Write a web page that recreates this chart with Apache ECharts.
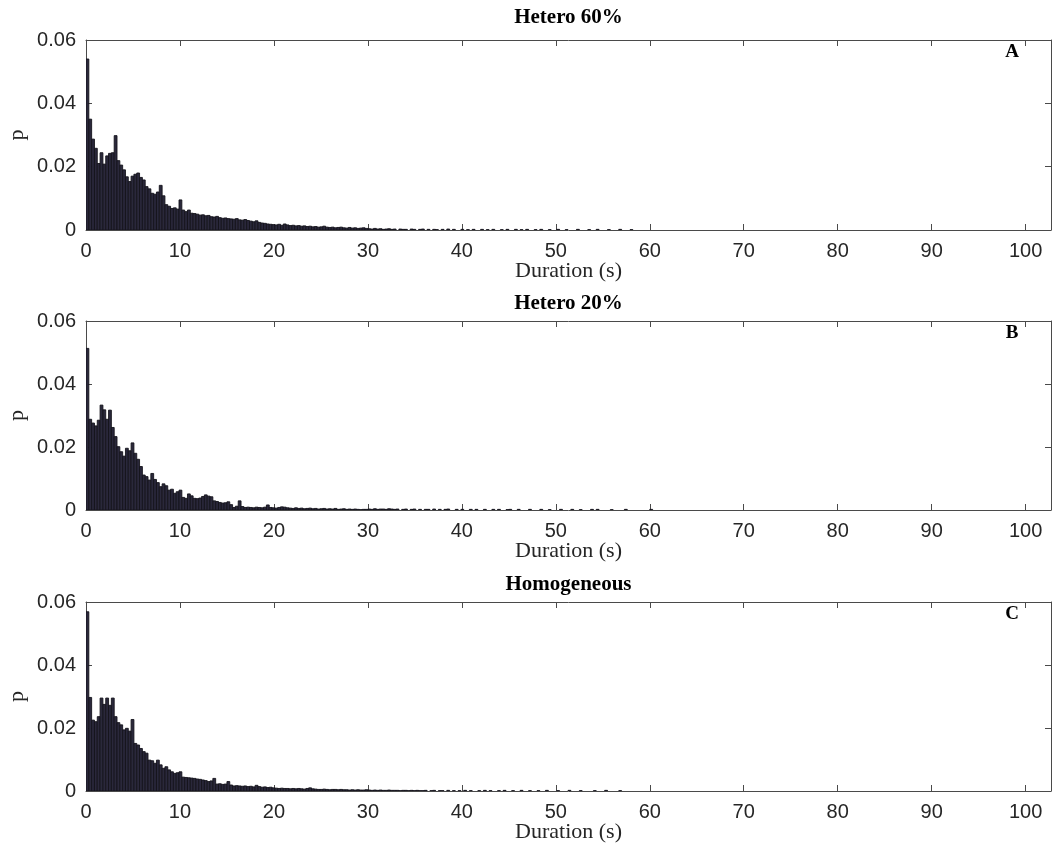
<!DOCTYPE html>
<html>
<head>
<meta charset="utf-8">
<script src="https://cdn.jsdelivr.net/npm/echarts@6/dist/echarts.min.js"></script>
<style>
  html, body { margin: 0; padding: 0; background: #ffffff; }
  #chart { width: 1052px; height: 858px; }
</style>
</head>
<body>
<div id="chart"></div>
<script>
// Histogram bin width (s) and x range
const BIN = 0.3;
const X_MAX = 102.7;

const panelTitles = ['Hetero 60%', 'Hetero 20%', 'Homogeneous'];
const panelTags = ['A', 'B', 'C'];
const xTickValues = [0, 10, 20, 30, 40, 50, 60, 70, 80, 90, 100];
const yTickValues = [0, 0.02, 0.04, 0.06];

// Probability per duration bin, bin i covers [i*BIN, (i+1)*BIN)
const hetero60 = [
  0.0540,0.0350,0.0287,0.0258,0.0210,0.0244,0.0208,0.0234,0.0242,0.0244,
  0.0298,0.0219,0.0205,0.0190,0.0168,0.0153,0.0170,0.0176,0.0180,0.0166,
  0.0158,0.0137,0.0130,0.0116,0.0113,0.0120,0.0141,0.0108,0.0080,0.0075,
  0.0068,0.0070,0.0066,0.0095,0.0063,0.0058,0.0063,0.0053,0.0052,0.0050,
  0.0047,0.0048,0.0045,0.0046,0.0042,0.0041,0.0043,0.0039,0.0037,0.0038,
  0.0036,0.0035,0.0034,0.0036,0.0032,0.0031,0.0033,0.0030,0.0028,0.0026,
  0.0029,0.0024,0.0022,0.0021,0.0019,0.0018,0.0017,0.0016,0.0018,0.0015,
  0.0019,0.0016,0.0014,0.0015,0.0013,0.0014,0.0012,0.0013,0.0011,0.0012,
  0.0010,0.0011,0.0009,0.0010,0.0012,0.0009,0.0008,0.0009,0.0007,0.0008,
  0.0009,0.0007,0.0006,0.0008,0.0006,0.0007,0.0005,0.0006,0.0007,0.0005,
  0.0004,0.0003,0.0005,0.0003,0.0004,0.0002,0.0003,0.0004,0.0002,0.0003,
  0,0.0003,0.0002,0.0002,0,0.0003,0.0002,0,0.0002,0.0003,
  0,0.0002,0,0.0002,0.0001,0,0.0002,0,0.0003,0,
  0.0002,0,0,0.0002,0,0.0001,0,0.0002,0,0,
  0.0002,0,0.0001,0,0.0002,0,0,0.0001,0,0.0002,
  0,0,0.0002,0,0.0001,0,0.0002,0,0,0.0001,
  0,0.0002,0,0,0.0001,0,0,0.0002,0,0,
  0.0001,0,0,0,0.0002,0,0,0,0.0001,0,
  0,0.0002,0,0,0,0.0001,0,0,0,0.0002,
  0,0,0,0.0001
];

const hetero20 = [
  0.0513,0.0288,0.0276,0.0267,0.0285,0.0333,0.0318,0.0288,0.0317,0.0262,
  0.0233,0.0201,0.0185,0.0171,0.0196,0.0188,0.0213,0.0180,0.0161,0.0138,
  0.0111,0.0106,0.0095,0.0116,0.0097,0.0087,0.0074,0.0083,0.0077,0.0063,
  0.0066,0.0053,0.0058,0.0063,0.0040,0.0037,0.0051,0.0045,0.0037,0.0036,
  0.0038,0.0043,0.0048,0.0044,0.0042,0.0029,0.0027,0.0024,0.0022,0.0023,
  0.0026,0.0017,0.0008,0.0012,0.0029,0.0011,0.0008,0.0009,0.0008,0.0007,
  0.0009,0.0008,0.0007,0.0009,0.0016,0.0008,0.0007,0.0006,0.0008,0.0010,
  0.0009,0.0007,0.0006,0.0005,0.0007,0.0005,0.0006,0.0004,0.0005,0.0006,
  0.0004,0.0005,0.0003,0.0004,0.0005,0.0003,0.0004,0.0003,0.0005,0.0002,
  0.0003,0.0004,0.0002,0.0003,0.0002,0.0003,0.0002,0.0001,0.0002,0.0002,
  0.0003,0.0002,0.0004,0.0002,0.0003,0.0003,0.0002,0.0004,0.0003,0.0002,
  0.0003,0,0.0002,0.0003,0,0.0002,0.0003,0,0.0002,0,
  0.0002,0.0002,0,0.0003,0,0.0002,0,0.0002,0.0003,0,
  0,0.0002,0,0.0002,0,0,0.0002,0,0.0002,0,
  0,0.0002,0,0,0.0002,0,0.0002,0,0,0.0001,
  0.0002,0,0,0.0002,0,0,0,0.0002,0,0,
  0,0.0002,0,0,0.0001,0,0,0,0.0002,0,
  0,0,0.0002,0,0,0.0001,0,0,0,0.0002,
  0,0.0002,0,0,0,0,0.0001,0,0,0,
  0,0.0002,0,0,0,0,0,0,0,0,
  0.0002
];

const homogeneous = [
  0.0569,0.0297,0.0225,0.0220,0.0236,0.0295,0.0275,0.0295,0.0272,0.0295,
  0.0236,0.0217,0.0210,0.0194,0.0199,0.0190,0.0227,0.0151,0.0146,0.0135,
  0.0125,0.0120,0.0098,0.0096,0.0088,0.0098,0.0083,0.0072,0.0077,0.0067,
  0.0061,0.0056,0.0058,0.0061,0.0044,0.0043,0.0042,0.0041,0.0040,0.0038,
  0.0037,0.0035,0.0033,0.0030,0.0032,0.0040,0.0022,0.0023,0.0021,0.0022,
  0.0030,0.0019,0.0016,0.0017,0.0016,0.0015,0.0016,0.0014,0.0015,0.0013,
  0.0018,0.0014,0.0012,0.0013,0.0011,0.0012,0.0010,0.0009,0.0008,0.0009,
  0.0008,0.0008,0.0007,0.0008,0.0007,0.0008,0.0007,0.0006,0.0008,0.0010,
  0.0007,0.0006,0.0005,0.0005,0.0006,0.0005,0.0004,0.0005,0.0005,0.0004,
  0.0005,0.0004,0.0004,0.0003,0.0004,0.0003,0.0004,0.0003,0.0003,0.0004,
  0.0003,0.0002,0.0003,0.0002,0.0003,0.0002,0.0002,0.0003,0.0002,0.0002,
  0.0002,0.0001,0.0002,0.0002,0.0001,0.0002,0.0001,0.0002,0.0001,0.0001,
  0.0002,0,0.0001,0.0002,0,0.0001,0.0001,0,0.0002,0,
  0.0001,0,0.0001,0,0.0002,0,0.0001,0,0,0.0001,
  0,0.0002,0,0.0001,0,0,0.0001,0,0.0002,0,
  0,0.0001,0,0,0.0002,0,0,0.0001,0,0,
  0.0001,0,0,0.0002,0,0,0,0.0001,0,0,
  0,0.0002,0,0,0,0.0001,0,0,0,0,
  0.0001,0,0,0,0.0002,0,0,0,0,0.0001
];

const panelData = [hetero60, hetero20, homogeneous];

// Layout of the three stacked axes boxes
const GRID_LEFT = 86;
const GRID_WIDTH = 965;
const gridTops = [40, 321, 602];
const gridHeights = [190, 189, 189];
const titleYs = [18, 304, 585];

const AXIS_COLOR = '#4a4a4a';
const TEXT_COLOR = '#262626';
const BAR_FILL = '#2a283b';
const BAR_EDGE = '#14131b';
const SANS = '"Liberation Sans", Arial, sans-serif';
const SERIF = '"Liberation Serif", "Times New Roman", serif';

const chart = echarts.init(document.getElementById('chart'), null, { renderer: 'canvas' });

const grids = [], xAxes = [], yAxes = [], series = [], graphics = [];

panelData.forEach((values, k) => {
  grids.push({ left: GRID_LEFT, width: GRID_WIDTH, top: gridTops[k], height: gridHeights[k] });

  const tickStyle = { show: true, inside: true, length: 6, lineStyle: { color: AXIS_COLOR, width: 1 } };
  const lineStyle = { show: true, onZero: false, lineStyle: { color: AXIS_COLOR, width: 1 } };

  // bottom x axis with labels
  xAxes.push({
    type: 'value', gridIndex: k, position: 'bottom', min: 0, max: X_MAX, interval: 10,
    axisLine: lineStyle, axisTick: tickStyle, splitLine: { show: false },
    axisLabel: {
      show: true, fontSize: 20, fontFamily: SANS, color: TEXT_COLOR, margin: 11,
      showMaxLabel: false,
      formatter: v => (xTickValues.indexOf(Math.round(v)) >= 0 && Math.abs(v - Math.round(v)) < 1e-6) ? String(Math.round(v)) : ''
    }
  });
  // top x axis: box edge with inward ticks
  xAxes.push({
    type: 'value', gridIndex: k, position: 'top', min: 0, max: X_MAX, interval: 10,
    axisLine: lineStyle, axisTick: tickStyle, axisLabel: { show: false }, splitLine: { show: false }
  });
  // left y axis with labels
  yAxes.push({
    type: 'value', gridIndex: k, position: 'left', min: 0, max: 0.06, interval: 0.02,
    axisLine: lineStyle, axisTick: tickStyle, splitLine: { show: false },
    axisLabel: {
      show: true, fontSize: 20, fontFamily: SANS, color: TEXT_COLOR, margin: 10,
      formatter: v => {
        const hit = yTickValues.find(t => Math.abs(t - v) < 1e-9);
        return hit === undefined ? '' : (hit === 0 ? '0' : hit.toFixed(2));
      }
    }
  });
  // right y axis: box edge with inward ticks
  yAxes.push({
    type: 'value', gridIndex: k, position: 'right', min: 0, max: 0.06, interval: 0.02,
    axisLine: lineStyle, axisTick: tickStyle, axisLabel: { show: false }, splitLine: { show: false }
  });

  const binData = values.map((v, i) => [i * BIN, v]).filter(d => d[1] > 0);

  series.push({
    type: 'custom',
    name: panelTitles[k],
    xAxisIndex: 2 * k,
    yAxisIndex: 2 * k,
    clip: true,
    encode: { x: 0, y: 1 },
    data: binData,
    renderItem: (params, api) => {
      const x0 = api.value(0);
      const v = api.value(1);
      const topLeft = api.coord([x0, v]);
      const bottomRight = api.coord([x0 + BIN, 0]);
      return {
        type: 'rect',
        shape: {
          x: topLeft[0], y: topLeft[1],
          width: bottomRight[0] - topLeft[0],
          height: bottomRight[1] - topLeft[1]
        },
        style: { fill: BAR_FILL, stroke: BAR_EDGE, lineWidth: 0.9 }
      };
    }
  });

  const top = gridTops[k], h = gridHeights[k];
  const cx = GRID_LEFT + GRID_WIDTH / 2;

  graphics.push({
    type: 'text', x: cx, y: titleYs[k], z: 10,
    style: { text: panelTitles[k], font: 'bold 21px ' + SERIF, fill: '#000',
             align: 'center', verticalAlign: 'middle', textAlign: 'center', textVerticalAlign: 'middle' }
  });
  graphics.push({
    type: 'text', x: 1012, y: top + 12, z: 10,
    style: { text: panelTags[k], font: 'bold 19px ' + SERIF, fill: '#000',
             align: 'center', verticalAlign: 'middle', textAlign: 'center', textVerticalAlign: 'middle' }
  });
  graphics.push({
    type: 'text', x: cx, y: top + h + 41, z: 10,
    style: { text: 'Duration (s)', font: '22px ' + SERIF, fill: TEXT_COLOR,
             align: 'center', verticalAlign: 'middle', textAlign: 'center', textVerticalAlign: 'middle' }
  });
  graphics.push({
    type: 'text', x: 17, y: top + h / 2, rotation: Math.PI / 2, z: 10,
    style: { text: 'p', font: '22px ' + SERIF, fill: TEXT_COLOR,
             align: 'center', verticalAlign: 'middle', textAlign: 'center', textVerticalAlign: 'middle' }
  });
});

chart.setOption({
  animation: false,
  backgroundColor: '#ffffff',
  grid: grids,
  xAxis: xAxes,
  yAxis: yAxes,
  series: series,
  graphic: graphics
});
</script>
</body>
</html>
